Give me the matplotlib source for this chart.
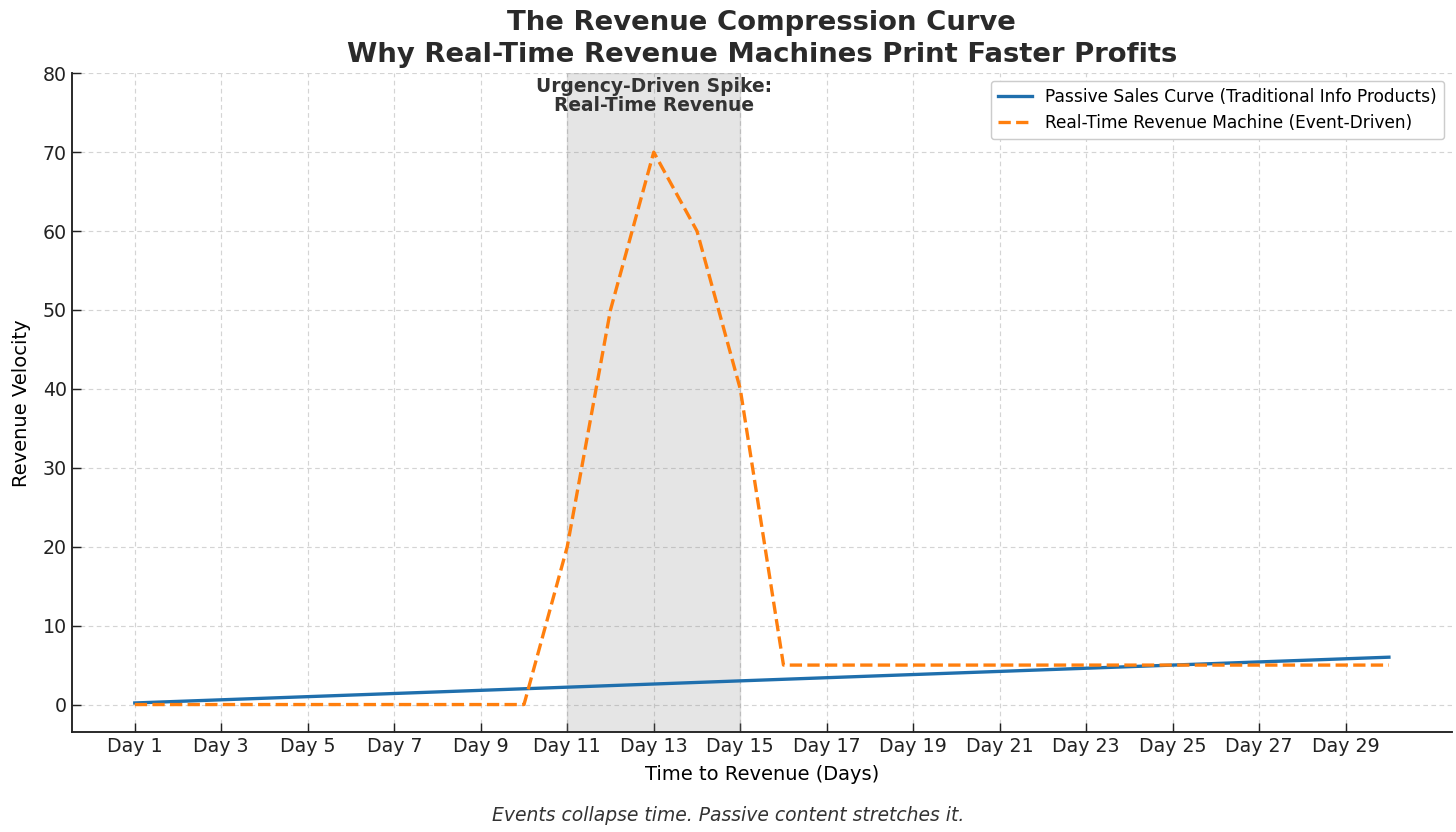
import matplotlib.pyplot as plt
import numpy as np

# days on the x axis
days = ["Day %d" % d for d in range(1, 31)]

# passive curve, slow steady climb
passive = [0.2, 0.4, 0.6, 0.8, 1.0, 1.2, 1.4, 1.6, 1.8, 2.0,
           2.2, 2.4, 2.6, 2.8, 3.0, 3.2, 3.4, 3.6, 3.8, 4.0,
           4.2, 4.4, 4.6, 4.8, 5.0, 5.2, 5.4, 5.6, 5.8, 6.0]

# event driven, spike then a small tail
realtime = [0, 0, 0, 0, 0, 0, 0, 0, 0, 0,
            20, 50, 70, 60, 40, 5, 5, 5, 5, 5,
            5, 5, 5, 5, 5, 5, 5, 5, 5, 5]

spike_start = "Day 11"
spike_end = "Day 15"

x = np.arange(len(days))

fig, ax = plt.subplots(figsize=(14, 8), dpi=104)

ax.plot(x, passive, color="#1f6fad", lw=2.3, label="Passive Sales Curve (Traditional Info Products)")
ax.plot(x, realtime, color="#ff7f0e", lw=2.3, ls="--", label="Real-Time Revenue Machine (Event-Driven)")

s0 = days.index(spike_start)
s1 = days.index(spike_end)
ax.axvspan(s0, s1, color="gray", alpha=0.2)
ax.text((s0 + s1) / 2, 77.15, "Urgency-Driven Spike:\nReal-Time Revenue", ha="center", va="center",
        fontsize=12.9, fontweight="bold", color="#333333", linespacing=1.0)

ax.set_ylim(top=80)
ax.set_xticks(x[::2])
ax.set_xticklabels(days[::2])
ax.tick_params(axis="both", direction="in", labelsize=13.2, length=6, width=1, colors="#222222")
ax.set_xlabel("Time to Revenue (Days)", fontsize=13.5, labelpad=6)
ax.set_ylabel("Revenue Velocity", fontsize=13.5, labelpad=8)
ax.set_title("The Revenue Compression Curve\nWhy Real-Time Revenue Machines Print Faster Profits",
             fontsize=19, fontweight="bold", color="#2a2a2a", linespacing=1.28, pad=8)

ax.grid(True, ls=(0, (4, 3)), color="#d4d4d4", lw=0.8)
ax.set_axisbelow(True)
for sp in ["top", "right"]:
    ax.spines[sp].set_visible(False)
for sp in ["left", "bottom"]:
    ax.spines[sp].set_linewidth(1.3)
    ax.spines[sp].set_color("#222222")

ax.legend(loc="upper right", fontsize=11.8, framealpha=1, borderaxespad=0.45)

fig.text(0.5, 0.013, "Events collapse time. Passive content stretches it.", ha="center",
         fontsize=13, style="italic", color="#333333")

plt.subplots_adjust(left=0.0495, right=0.997, top=0.912, bottom=0.12)
plt.savefig("out.png")
